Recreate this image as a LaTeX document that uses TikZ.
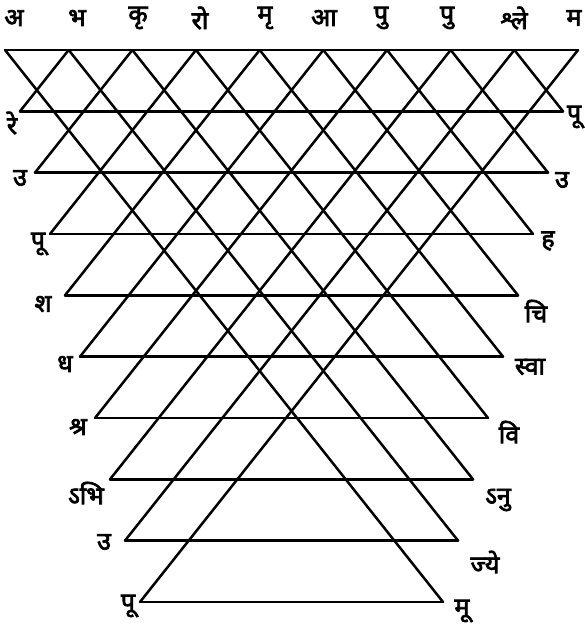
\documentclass[tikz,border=0pt]{standalone}
\usepackage{fontspec}
\newfontfamily\deva[Script=Devanagari,FakeBold=3]{Noto Sans}
\begin{document}
\begin{tikzpicture}[x=1pt,y=-1pt,
  ln/.style={line width=2.5pt,line cap=round,line join=round,black},
  lab/.style={font=\deva\fontsize{25}{25}\selectfont,inner sep=0pt}]
\useasboundingbox (0,0) rectangle (584,628);
% top vertices
\foreach \k in {0,...,9}{
  \coordinate (T\k) at ({5+63.67*\k},50);
}
% level endpoints
\foreach \k in {1,...,9}{
  \coordinate (L\k) at ({5+15*\k},{50+61.33*\k});
  \coordinate (R\k) at ({578-15*\k},{50+61.33*\k});
}
\draw[ln] (T0) -- (T9);
\foreach \k in {1,...,9}{
  \pgfmathtruncatemacro{\j}{9-\k}
  \draw[ln] (L\k) -- (R\k);
  \draw[ln] (L\k) -- (T\k);
  \draw[ln] (R\k) -- (T\j);
}
% top labels
\node[lab] (t0) at (14,18) {अ};
\node[lab] (t1) at (77,18) {भ};
\node[lab] (t2) at (138,18) {कृ};
\node[lab] (t3) at (200,18) {रो};
\node[lab] (t4) at (265,18) {मृ};
\node[lab] (t5) at (324,18) {आ};
\node[lab] (t6) at (381,18) {पु};
\node[lab] (t7) at (447,18) {पु};
\node[lab] (t8) at (514,18) {श्ले};
\node[lab] (t9) at (574,18) {म};
% left labels
\node[lab] (l1) at (12,123) {रे};
\node[lab] (l2) at (20,178) {उ};
\node[lab] (l3) at (38,244) {पू};
\node[lab] (l4) at (43,304) {श};
\node[lab] (l5) at (65,364) {ध};
\node[lab] (l6) at (78,427) {श्र};
\node[lab] (l7) at (86,493) {ऽभि};
\node[lab] (l8) at (104,542) {उ};
\node[lab] (l9) at (128,606) {पू};
% right labels
\node[lab] (r1) at (574,117) {पू};
\node[lab] (r2) at (562,180) {उ};
\node[lab] (r3) at (548,241) {ह};
\node[lab] (r4) at (536,311) {चि};
\node[lab] (r5) at (530,367) {स्वा};
\node[lab] (r6) at (509,432) {वि};
\node[lab] (r7) at (498,500) {ऽनु};
\node[lab] (r8) at (485,562) {ज्ये};
\node[lab] (r9) at (462,611) {मू};
\end{tikzpicture}
\end{document}
